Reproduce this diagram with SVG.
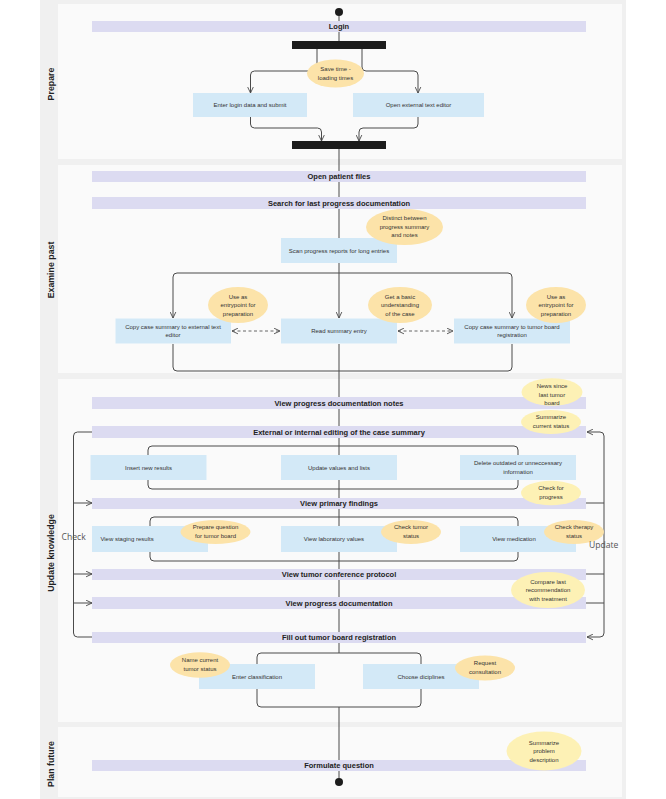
<svg xmlns="http://www.w3.org/2000/svg" width="666" height="799" viewBox="0 0 666 799">
<style>
.lane{fill:#fafafa}
.lt{font-family:"Liberation Sans",Arial,sans-serif;font-size:8.8px;font-weight:bold;fill:#222;text-anchor:middle}
.bar{fill:#dcdbf1}
.bt{font-family:"Liberation Sans",Arial,sans-serif;font-size:7.5px;font-weight:bold;fill:#222;text-anchor:middle}
.box{fill:#d3e9f7}
.t{font-family:"Liberation Sans",Arial,sans-serif;font-size:6px;fill:#333;text-anchor:middle}
.no{fill:#fce3a9}
.ny{fill:#fdf1b5}
.sync{fill:#1c1c1c}
.c{fill:none;stroke:#4a4a4a;stroke-width:1}
.ca{fill:none;stroke:#4a4a4a;stroke-width:1;marker-end:url(#arr)}
.cd{fill:none;stroke:#555;stroke-width:0.9;stroke-dasharray:3,2.5;marker-start:url(#arr);marker-end:url(#arr)}
.lbl{font-family:"Open Sans","Liberation Sans",sans-serif;font-size:8.6px;fill:#555}
</style>
<defs>
<marker id="arr" viewBox="0 0 10 10" refX="9.5" refY="5" markerWidth="7" markerHeight="7" markerUnits="userSpaceOnUse" orient="auto-start-reverse">
<path d="M1,1 L9.5,5 L1,9" fill="none" stroke="#4a4a4a" stroke-width="1.3"/>
</marker>
</defs>
<rect x="40" y="0" width="586" height="799" fill="#f0f0f0"/>
<g id="lanes">
<rect class="lane" x="58" y="4" width="564" height="155"/>
<rect class="lane" x="58" y="165" width="564" height="208"/>
<rect class="lane" x="58" y="379" width="564" height="343"/>
<rect class="lane" x="58" y="727" width="564" height="70"/>
<text class="lt" transform="translate(54,84) rotate(-90)">Prepare</text>
<text class="lt" transform="translate(54,270) rotate(-90)">Examine past</text>
<text class="lt" transform="translate(54,553) rotate(-90)">Update knowledge</text>
<text class="lt" transform="translate(54,764) rotate(-90)">Plan future</text>
</g>
<g id="connectors">
<path class="c" d="M339,16 V21 M339,32 V41 M339,149 V171 M339,182 V197 M339,209 V238"/>
<path class="ca" d="M317,49 V67 Q317,71 313,71 H254.5 Q250.5,71 250.5,75 V93"/>
<path class="ca" d="M362,49 V67 Q362,71 366,71 H414 Q418,71 418,75 V93"/>
<path class="ca" d="M250.5,117 V124 Q250.5,128 254.5,128 H317.5 Q321.5,128 321.5,132 V141"/>
<path class="ca" d="M418,117 V124 Q418,128 414,128 H363 Q359,128 359,132 V141"/>
<path class="ca" d="M339,263 V318"/>
<path class="ca" d="M339,273 H177 Q173,273 173,277 V318"/>
<path class="ca" d="M339,273 H508 Q512,273 512,277 V318"/>
<path class="cd" d="M232,331 H280"/>
<path class="cd" d="M398,331 H453"/>
<path class="c" d="M173,344 V367 Q173,371 177,371 H508 Q512,371 512,367 V344 M339,344 V397 M339,409 V426 M339,438 V455"/>
<path class="c" d="M148,455 V450 Q148,446 152,446 H514 Q518,446 518,450 V455"/>
<path class="c" d="M148,480 V485 Q148,489 152,489 H514 Q518,489 518,485 V480 M339,480 V498 M339,509 V526"/>
<path class="c" d="M150,526 V521 Q150,517 154,517 H514 Q518,517 518,521 V526"/>
<path class="c" d="M150,552 V557 Q150,561 154,561 H514 Q518,561 518,557 V552 M339,552 V569 M339,580 V597 M339,609 V632 M339,643 V653"/>
<path class="c" d="M257,664 V657 Q257,653 261,653 H417 Q421,653 421,657 V664"/>
<path class="c" d="M257,689 V703 Q257,707 261,707 H417 Q421,707 421,703 V689 M339,707 V760 M339,771 V778"/>
<path class="c" d="M92,432 H77.5 Q73.5,432 73.5,436 V633 Q73.5,637 77.5,637 H92"/>
<path class="ca" d="M73.5,503 H92"/>
<path class="ca" d="M73.5,574 H92"/>
<path class="ca" d="M73.5,603 H92"/>
<path class="c" d="M586,503 H604 M586,574 H604 M586,603 H604"/>
<path class="ca" d="M604,520 V436 Q604,432 600,432 H587"/>
<path class="ca" d="M604,520 V633 Q604,637 600,637 H587"/>
</g>
<g id="start"><circle cx="339" cy="12" r="4" fill="#1c1c1c"/></g>
<g id="login"><rect class="bar" x="92" y="21" width="494" height="11"/><text class="bt" x="339" y="29.2">Login</text></g>
<g id="fork1"><rect class="sync" x="292" y="41" width="94" height="8"/></g>
<g id="enter-login"><rect class="box" x="193" y="93" width="114" height="24"/><text class="t" x="250" y="107.2">Enter login data and submit</text></g>
<g id="open-editor"><rect class="box" x="353" y="93" width="131" height="24"/><text class="t" x="418.5" y="107.2">Open external text editor</text></g>
<g id="note-save"><ellipse class="no" cx="335.5" cy="73.5" rx="28.5" ry="14"/><text class="t" x="335.5" y="71.2">Save time -</text><text class="t" x="335.5" y="79.8">loading times</text></g>
<g id="join1"><rect class="sync" x="292" y="141" width="94" height="8"/></g>
<g id="open-files"><rect class="bar" x="92" y="171" width="494" height="11"/><text class="bt" x="339" y="179.2">Open patient files</text></g>
<g id="search"><rect class="bar" x="92" y="197" width="494" height="12"/><text class="bt" x="339" y="205.7">Search for last progress documentation</text></g>
<g id="scan"><rect class="box" x="281" y="238" width="116" height="25"/><text class="t" x="339" y="252.5">Scan progress reports for long entries</text></g>
<g id="note-distinct"><ellipse class="no" cx="404.5" cy="227" rx="38.5" ry="18"/><text class="t" x="404.5" y="220.4">Distinct between</text><text class="t" x="404.5" y="228.9">progress summary</text><text class="t" x="404.5" y="237.4">and notes</text></g>
<g id="copy-ext"><rect class="box" x="115.5" y="318.5" width="115.5" height="25"/><text class="t" x="173" y="328.8">Copy case summary to external text</text><text class="t" x="173" y="337.4">editor</text></g>
<g id="read-summary"><rect class="box" x="281" y="318.5" width="116" height="25"/><text class="t" x="339" y="333.2">Read summary entry</text></g>
<g id="copy-tb"><rect class="box" x="454" y="318.5" width="116" height="25"/><text class="t" x="512" y="328.8">Copy case summary to tumor board</text><text class="t" x="512" y="337.4">registration</text></g>
<g id="note-entry1"><ellipse class="no" cx="238" cy="305" rx="30" ry="18"/><text class="t" x="238" y="298.6">Use as</text><text class="t" x="238" y="307.1">entrypoint for</text><text class="t" x="238" y="315.6">preparation</text></g>
<g id="note-basic"><ellipse class="no" cx="400" cy="305" rx="32" ry="18"/><text class="t" x="400" y="298.6">Get a basic</text><text class="t" x="400" y="307.1">understanding</text><text class="t" x="400" y="315.6">of the case</text></g>
<g id="note-entry2"><ellipse class="no" cx="556" cy="305" rx="30" ry="18"/><text class="t" x="556" y="298.6">Use as</text><text class="t" x="556" y="307.1">entrypoint for</text><text class="t" x="556" y="315.6">preparation</text></g>
<g id="view-notes"><rect class="bar" x="92" y="397" width="494" height="12"/><text class="bt" x="339" y="405.7">View progress documentation notes</text></g>
<g id="note-news"><ellipse class="ny" cx="552" cy="392" rx="30.5" ry="13.7"/><text class="t" x="552" y="388.4">News since</text><text class="t" x="552" y="396.9">last tumor</text><text class="t" x="552" y="405.4">board</text></g>
<g id="edit-summary"><rect class="bar" x="92" y="426" width="494" height="12"/><text class="bt" x="339" y="434.7">External or internal editing of the case summary</text></g>
<g id="note-summ"><ellipse class="ny" cx="551" cy="422" rx="30" ry="12"/><text class="t" x="551" y="419.2">Summarize</text><text class="t" x="551" y="427.7">current status</text></g>
<g id="insert"><rect class="box" x="90.5" y="455" width="116" height="25"/><text class="t" x="148.5" y="469.6">Insert new results</text></g>
<g id="update-values"><rect class="box" x="281" y="455" width="116" height="25"/><text class="t" x="339" y="469.6">Update values and lists</text></g>
<g id="delete"><rect class="box" x="460" y="455" width="116" height="25"/><text class="t" x="518" y="465.1">Delete outdated or unneccessary</text><text class="t" x="518" y="473.5">information</text></g>
<g id="primary"><rect class="bar" x="92" y="498" width="494" height="11"/><text class="bt" x="339" y="506.2">View primary findings</text></g>
<g id="note-progress"><ellipse class="ny" cx="551" cy="493" rx="30" ry="12.3"/><text class="t" x="551" y="490.2">Check for</text><text class="t" x="551" y="498.7">progress</text></g>
<g id="staging"><rect class="box" x="92" y="526" width="116" height="26"/><text class="t" x="127" y="541">View staging results</text></g>
<g id="lab"><rect class="box" x="281" y="526" width="116" height="26"/><text class="t" x="334" y="541">View laboratory values</text></g>
<g id="medication"><rect class="box" x="460" y="526" width="116" height="26"/><text class="t" x="514" y="541">View medication</text></g>
<g id="note-prepare"><ellipse class="no" cx="215.5" cy="532" rx="35" ry="12"/><text class="t" x="215.5" y="529.2">Prepare question</text><text class="t" x="215.5" y="537.7">for tumor board</text></g>
<g id="note-tumor"><ellipse class="no" cx="411" cy="532" rx="30" ry="12"/><text class="t" x="411" y="529.2">Check tumor</text><text class="t" x="411" y="537.7">status</text></g>
<g id="note-therapy"><ellipse class="no" cx="574" cy="532" rx="30" ry="12"/><text class="t" x="574" y="529.2">Check therapy</text><text class="t" x="574" y="537.7">status</text></g>
<g id="protocol"><rect class="bar" x="92" y="569" width="494" height="11"/><text class="bt" x="339" y="577.2">View tumor conference protocol</text></g>
<g id="progress-doc"><rect class="bar" x="92" y="597" width="494" height="12"/><text class="bt" x="339" y="605.7">View progress documentation</text></g>
<g id="note-compare"><ellipse class="ny" cx="548" cy="590" rx="37" ry="18"/><text class="t" x="548" y="583.6">Compare last</text><text class="t" x="548" y="592.1">recommendation</text><text class="t" x="548" y="600.6">with treatment</text></g>
<g id="fill-out"><rect class="bar" x="92" y="632" width="494" height="11"/><text class="bt" x="339" y="640.2">Fill out tumor board registration</text></g>
<g id="classification"><rect class="box" x="199" y="664" width="116" height="25"/><text class="t" x="257" y="678.6">Enter classification</text></g>
<g id="disciplines"><rect class="box" x="363" y="664" width="116" height="25"/><text class="t" x="421" y="678.6">Choose diciplines</text></g>
<g id="note-name"><ellipse class="no" cx="200" cy="665" rx="30" ry="12.7"/><text class="t" x="200" y="662.2">Name current</text><text class="t" x="200" y="670.7">tumor status</text></g>
<g id="note-request"><ellipse class="no" cx="485" cy="668" rx="30" ry="12.5"/><text class="t" x="485" y="665.2">Request</text><text class="t" x="485" y="673.7">consultation</text></g>
<g id="formulate"><rect class="bar" x="92" y="760" width="494" height="11"/><text class="bt" x="339" y="768.2">Formulate question</text></g>
<g id="note-problem"><ellipse class="ny" cx="544" cy="751" rx="37.5" ry="19.5"/><text class="t" x="544" y="744.6">Summarize</text><text class="t" x="544" y="753.1">problem</text><text class="t" x="544" y="761.6">description</text></g>
<g id="end"><circle cx="339" cy="782" r="4" fill="#1c1c1c"/></g>
<g id="loop-labels"><text class="lbl" x="61.5" y="539.8">Check</text><text class="lbl" x="589" y="548">Update</text></g>
</svg>
